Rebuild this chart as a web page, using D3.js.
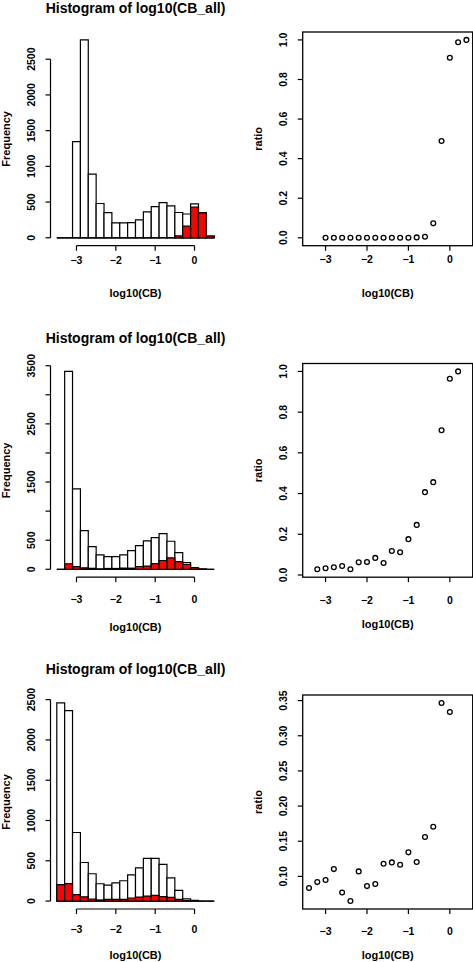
<!DOCTYPE html>
<html><head><meta charset="utf-8">
<script src="https://cdn.jsdelivr.net/npm/d3@7"></script>
<style>
body{margin:0;background:#fff}
svg{display:block;background:#fff}
text{font-family:"Liberation Sans",Arial,Helvetica,sans-serif;fill:#000}
</style>
</head><body>
<svg id="chart" width="473" height="962"></svg>
<script>
// ---------------- data ----------------
const binMids = [-3.4,-3.2,-3.0,-2.8,-2.6,-2.4,-2.2,-2.0,-1.8,-1.6,-1.4,-1.2,-1.0,-0.8,-0.6,-0.4,-0.2,0.0,0.2,0.4];
const binWidth = 0.2;
const xTicks = [-3,-2,-1,0];

const total1 = [0,0,1345,2770,890,480,352,210,210,212,250,364,436,492,448,354,333,474,352,25];
const red1   = [0,0,0,0,0,0,0,0,0,0,0,0,0,1,2,26,163,431,348,25];
const ratio1 = [null,null,0,0,0,0,0,0,0,0,0,0,0,0.002,0.005,0.073,0.489,0.91,0.988,1.0];

const total2 = [0,3402,1383,665,390,247,218,218,247,321,407,488,545,614,482,287,115,29,5,0];
const red2   = [0,95,46,25,17,7,14,14,21,19,48,55,96,151,196,131,82,28,5,0];
const ratio2 = [null,0.028,0.033,0.038,0.044,0.028,0.062,0.064,0.084,0.059,0.118,0.112,0.176,0.246,0.407,0.456,0.711,0.964,1.0,null];

const total3 = [2459,2364,851,479,339,215,198,227,252,326,413,529,529,455,289,132,29,9,0,0];
const red3   = [205,217,81,53,26,14,21,20,22,38,50,62,71,55,45,22,10,3,0,0];
const ratio3 = [0.0834,0.0919,0.0948,0.1104,0.0772,0.0649,0.1071,0.0862,0.0891,0.118,0.1199,0.1166,0.1342,0.1204,0.156,0.1707,0.3467,0.3339,null,null];

const histYTicks1 = [0,500,1000,1500,2000,2500];
const histYLabels1 = ["0","500","1000","1500","2000","2500"];
const histYTicks2 = [0,500,1000,1500,2000,2500,3000,3500];
const histYLabels2 = ["0","500","","1500","","2500","","3500"];
const histYTicks3 = [0,500,1000,1500,2000,2500];
const histYLabels3 = ["0","500","1000","1500","2000","2500"];

const ratioTicks1 = [0,0.2,0.4,0.6,0.8,1.0];
const ratioLabels1 = ["0.0","0.2","0.4","0.6","0.8","1.0"];
const ratioTicks3 = [0.10,0.15,0.20,0.25,0.30,0.35];
const ratioLabels3 = ["0.10","0.15","0.20","0.25","0.30","0.35"];

const titleText = "Histogram of log10(CB_all)";
const xLabelText = "log10(CB)";
const histYLabelText = "Frequency";
const ratioYLabelText = "ratio";

// ---------------- layout ----------------
const layout = [
  {top:32,   bottom:245.7, titleY:12.5, hTick:260,   hXlab:293.3, sTick:259,  sXlab:293.3},
  {top:363.5,bottom:577.2, titleY:343,  hTick:599,   hXlab:627.5, sTick:600,  sXlab:624.5},
  {top:695,  bottom:909,   titleY:673.5,hTick:929.7, hXlab:955,   sTick:931,  sXlab:955}
];
const panels = [
  {total:total1, red:red1, ratio:ratio1, hT:histYTicks1, hL:histYLabels1, rT:ratioTicks1, rL:ratioLabels1},
  {total:total2, red:red2, ratio:ratio2, hT:histYTicks2, hL:histYLabels2, rT:ratioTicks1, rL:ratioLabels1},
  {total:total3, red:red3, ratio:ratio3, hT:histYTicks3, hL:histYLabels3, rT:ratioTicks3, rL:ratioLabels3}
];

const H = {left:50.5, right:220.5};
const S = {left:302.7, right:472.7};
const tickLen = 5;
const tickFS = 10.5, labFS = 11, titleFS = 14;
const minus = s => String(s).replace("-", "\u2212");

const svg = d3.select("#chart");

function vText(g, x, y, txt, fs, weight){
  g.append("text")
    .attr("transform", `translate(${x},${y}) rotate(-90)`)
    .attr("text-anchor","middle").attr("dy","0.36em")
    .attr("font-size", fs).attr("font-weight", weight).text(txt);
}
function hText(g, x, y, txt, fs, weight){
  g.append("text").attr("x",x).attr("y",y).attr("dy","0.36em")
    .attr("text-anchor","middle").attr("font-size",fs).attr("font-weight",weight).text(txt);
}

const lo = binMids[0] - binWidth/2, hi = binMids[binMids.length-1] + binWidth/2;
const hx = d3.scaleLinear().domain([lo - 0.04*(hi-lo), hi + 0.04*(hi-lo)]).range([H.left, H.right]);
const mlo = binMids[0], mhi = binMids[binMids.length-1];
const sx = d3.scaleLinear().domain([mlo - 0.04*(mhi-mlo), mhi + 0.04*(mhi-mlo)]).range([S.left, S.right]);

panels.forEach((p, i) => {
  const L = layout[i];
  const g = svg.append("g");
  const maxT = d3.max(p.total);
  const hy = d3.scaleLinear().domain([-0.04*maxT, 1.04*maxT]).range([L.bottom, L.top]);

  // title
  g.append("text").attr("x",(H.left+H.right)/2).attr("y",L.titleY)
    .attr("text-anchor","middle").attr("font-size",titleFS).attr("font-weight","bold").text(titleText);

  // bars
  const barPath = (mid, v) => {
    const x0 = hx(mid - binWidth/2), x1 = hx(mid + binWidth/2), y0 = hy(0), y1 = hy(v);
    return `M${x0},${y0}V${y1}H${x1}V${y0}Z`;
  };
  g.selectAll(null).data(binMids).enter().append("path")
    .attr("d",(m,j)=>barPath(m,p.total[j])).attr("fill","#fff").attr("stroke","#000").attr("stroke-width",1.2);
  g.selectAll(null).data(binMids).enter().append("path")
    .attr("d",(m,j)=>barPath(m,p.red[j])).attr("fill","#ff0000").attr("stroke","#000").attr("stroke-width",1.2);

  // hist x axis
  g.append("line").attr("x1",hx(xTicks[0])).attr("x2",hx(xTicks[xTicks.length-1]))
    .attr("y1",L.bottom).attr("y2",L.bottom).attr("stroke","#000").attr("stroke-width",1.2);
  xTicks.forEach(t => {
    g.append("line").attr("x1",hx(t)).attr("x2",hx(t)).attr("y1",L.bottom).attr("y2",L.bottom+tickLen)
      .attr("stroke","#000").attr("stroke-width",1.2);
    hText(g, hx(t), L.hTick, minus(t), tickFS, "bold");
  });
  hText(g, (H.left+H.right)/2, L.hXlab, xLabelText, labFS, "bold");

  // hist y axis
  g.append("line").attr("x1",H.left).attr("x2",H.left)
    .attr("y1",hy(p.hT[0])).attr("y2",hy(p.hT[p.hT.length-1])).attr("stroke","#000").attr("stroke-width",1.2);
  p.hT.forEach((t,j) => {
    g.append("line").attr("x1",H.left-tickLen).attr("x2",H.left).attr("y1",hy(t)).attr("y2",hy(t))
      .attr("stroke","#000").attr("stroke-width",1.2);
    if (p.hL[j]) vText(g, 31.7, hy(t), p.hL[j], tickFS, "bold");
  });
  vText(g, 6, (L.top+L.bottom)/2, histYLabelText, labFS, "bold");

  // scatter
  const vals = p.ratio.filter(v => v !== null);
  const rmin = d3.min(vals), rmax = d3.max(vals), ext = 0.04*(rmax-rmin);
  const sy = d3.scaleLinear().domain([rmin-ext, rmax+ext]).range([L.bottom, L.top]);

  g.append("rect").attr("x",S.left).attr("y",L.top).attr("width",S.right-S.left).attr("height",L.bottom-L.top)
    .attr("fill","none").attr("stroke","#000").attr("stroke-width",1.3);
  xTicks.forEach(t => {
    g.append("line").attr("x1",sx(t)).attr("x2",sx(t)).attr("y1",L.bottom).attr("y2",L.bottom+tickLen)
      .attr("stroke","#000").attr("stroke-width",1.2);
    hText(g, sx(t), L.sTick, minus(t), tickFS, "bold");
  });
  p.rT.forEach((t,j) => {
    g.append("line").attr("x1",S.left-tickLen).attr("x2",S.left).attr("y1",sy(t)).attr("y2",sy(t))
      .attr("stroke","#000").attr("stroke-width",1.2);
    vText(g, 283, sy(t), p.rL[j], tickFS, "bold");
  });
  hText(g, (S.left+S.right)/2, L.sXlab, xLabelText, labFS, "bold");
  vText(g, 257.7, (L.top+L.bottom)/2, ratioYLabelText, labFS, "bold");

  const pts = binMids.map((m,j)=>({x:m, y:p.ratio[j]})).filter(d => d.y !== null);
  g.selectAll(null).data(pts).enter().append("circle")
    .attr("cx",d=>sx(d.x)).attr("cy",d=>sy(d.y)).attr("r",2.4)
    .attr("fill","none").attr("stroke","#000").attr("stroke-width",1.3);
});
</script>
</body></html>
